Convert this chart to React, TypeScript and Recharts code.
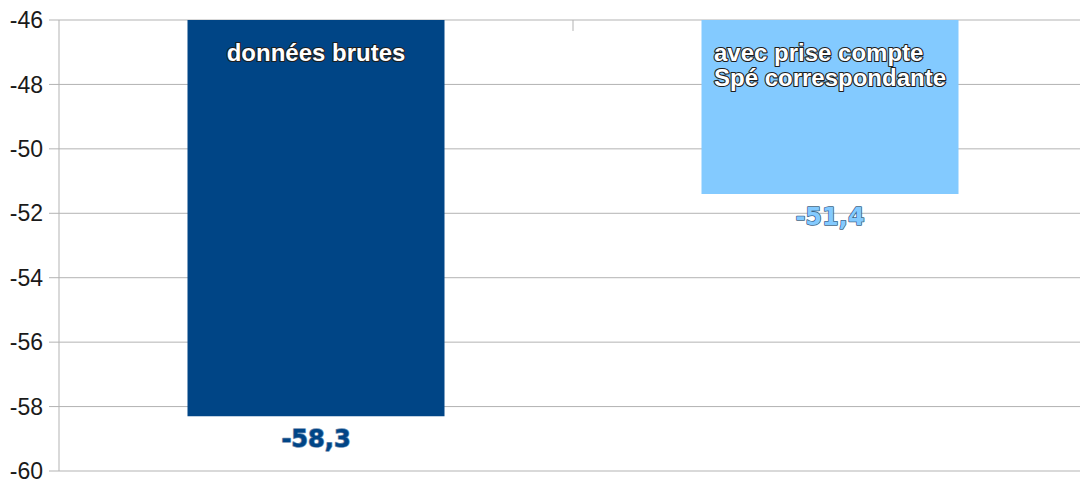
import React, { useLayoutEffect, useRef, useState } from 'react';
import { BarChart, Bar, XAxis, YAxis, CartesianGrid, LabelList, Cell, ReferenceLine } from 'recharts';

const categories = ['données brutes', 'avec prise compte\nSpé correspondante'];
const values = [-58.3, -51.4];
const barColors = ['#004586', '#83caff'];
const valueStroke = ['#6f8fb3', '#3e6486'];
const yTicks = [-60, -58, -56, -54, -52, -50, -48, -46];
// small category-separator tick hanging from the top axis, in value units
const dividerFrom = -46;
const dividerTo = -46.34;

const data = categories.map((name, i) => ({ name, value: values[i] }));

const GRID = '#b3b3b3';

function CategoryLabel(props: any) {
  const { x, y, width, height, value } = props;
  const top = Math.min(Number(y), Number(y) + Number(height));
  const cx = Number(x) + Number(width) / 2;
  const lines = String(value).split('\n');
  const ref = useRef<SVGGElement>(null);
  const [shift, setShift] = useState(0);
  useLayoutEffect(() => {
    if (ref.current) {
      const bb = ref.current.getBBox();
      setShift(-(bb.x + bb.width / 2));
    }
  }, [value, x, width]);
  return (
    <g transform={`translate(${cx + shift},0)`}>
      <g ref={ref}>
        {lines.map((l, i) => (
          <text
            key={i}
            x={0}
            y={top + 41 + i * 25}
            textAnchor="start"
            fill="#ffffff"
            stroke="#1e1e1e"
            strokeWidth={2.2}
            strokeLinejoin="round"
            paintOrder="stroke"
            style={{ fontFamily: '"Liberation Sans", Arial, sans-serif', fontSize: 24, fontWeight: 'bold' }}
          >
            {l}
          </text>
        ))}
      </g>
    </g>
  );
}

function ValueLabel(props: any) {
  const { x, y, width, height, value, index } = props;
  const bottom = Math.max(Number(y), Number(y) + Number(height));
  const txt = Number(value).toFixed(1).replace('.', ',');
  return (
    <text
      x={Number(x) + Number(width) / 2}
      y={bottom + 31}
      textAnchor="middle"
      fill={barColors[index] ?? barColors[0]}
      stroke={valueStroke[index] ?? valueStroke[0]}
      strokeWidth={1.5}
      strokeLinejoin="round"
      paintOrder="stroke"
      style={{ fontFamily: '"DejaVu Sans", sans-serif', fontSize: 24, fontWeight: 'bold' }}
    >
      {txt}
    </text>
  );
}

export default function App() {
  return (
    <div
      style={{
        position: 'absolute',
        left: 0,
        top: 0,
        width: 1080,
        height: 482,
        overflow: 'hidden',
        background: '#fff',
      }}
    >
      <BarChart
        width={1088}
        height={482}
        data={data}
        margin={{ top: 20, right: 1, bottom: 11, left: 0 }}
        barCategoryGap="25%"
      >
        <CartesianGrid vertical={false} stroke={GRID} />
        <XAxis
          dataKey="name"
          orientation="top"
          height={0}
          axisLine={{ stroke: GRID }}
          tickLine={false}
          tick={false}
        />
        <YAxis
          width={59}
          domain={[-60, -46]}
          ticks={yTicks}
          interval={0}
          tickSize={10}
          tickMargin={6}
          axisLine={{ stroke: GRID }}
          tickLine={{ stroke: GRID }}
          tick={{ fill: '#1a1a1a', fontSize: 23, fontFamily: '"Liberation Sans", Arial, sans-serif' }}
        />
        <ReferenceLine
          position="end"
          segment={[
            { x: categories[0], y: dividerFrom },
            { x: categories[0], y: dividerTo },
          ]}
          stroke={GRID}
          strokeWidth={1}
          ifOverflow="visible"
        />
        <Bar dataKey="value" isAnimationActive={false}>
          {data.map((d, i) => (
            <Cell key={d.name} fill={barColors[i]} />
          ))}
          <LabelList dataKey="name" content={<CategoryLabel />} />
          <LabelList dataKey="value" content={<ValueLabel />} />
        </Bar>
      </BarChart>
    </div>
  );
}
